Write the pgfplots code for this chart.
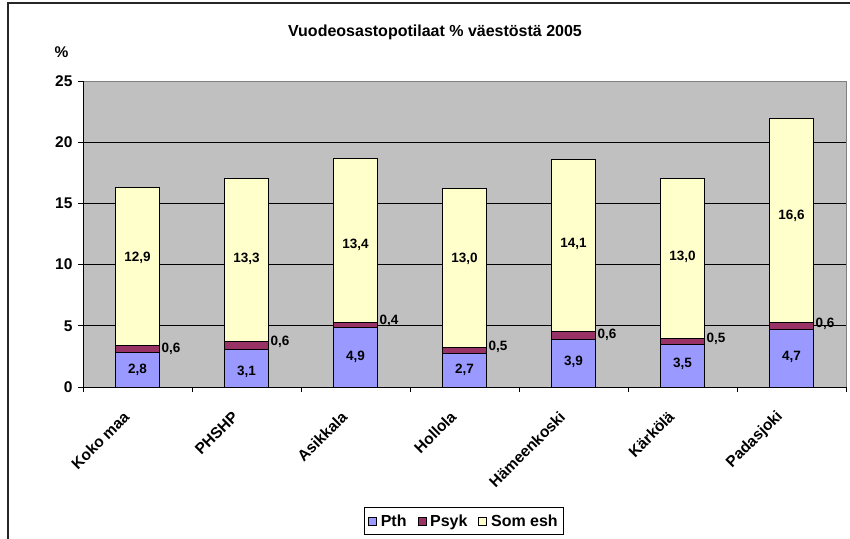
\documentclass[border=0pt]{standalone}
\usepackage{pgfplots}
\pgfplotsset{compat=1.18}
\usepackage{fontspec}
\setmainfont{Liberation Sans}
\definecolor{pth}{HTML}{9999FF}
\definecolor{psyk}{HTML}{993366}
\definecolor{som}{HTML}{FFFFCC}
\definecolor{plotbg}{HTML}{C0C0C0}
\newcommand{\fs}[1]{\fontsize{#1bp}{#1bp}\selectfont\bfseries}
\begin{document}
\begin{tikzpicture}[x=1bp,y=1bp]
\useasboundingbox (-83,-152) rectangle (767,387);
\draw[line width=1.2bp, black!85] (-75,-152) -- (-75,384) -- (767,384);
\node[font=\fs{16}] at (352,355) {Vuodeosastopotilaat \% väestöstä 2005};
\node[font=\fs{15.5}] at (-21.5,335) {\%};
\begin{axis}[
  at={(0,0)}, anchor=south west, scale only axis,
  width=763bp, height=306bp,
  xmin=-0.5, xmax=6.5, ymin=0, ymax=25,
  ybar stacked, bar width=0.4,
  axis background/.style={fill=plotbg, draw=gray},
  axis x line*=bottom, axis y line*=left,
  axis line style={black, line width=0.8bp, -},
  tick align=outside, major tick length=5bp,
  tick style={black, line width=0.8bp},
  ytick={0,5,...,25},
  yticklabel style={font=\fs{15.5}, xshift=-2bp},
  /pgf/number format/assume math mode=true,
  extra y ticks={5,10,15,20}, extra y tick labels={},
  extra y tick style={grid=major, major tick length=0pt},
  grid style={black, line width=0.8bp},
  xtick={-0.5,0.5,1.5,2.5,3.5,4.5,5.5,6.5}, xticklabels={},
  extra x ticks={0,1,2,3,4,5,6},
  extra x tick labels={Koko maa,PHSHP,Asikkala,Hollola,Hämeenkoski,Kärkölä,Padasjoki},
  extra x tick style={major tick length=0pt,
    xticklabel style={xshift=-11bp, yshift=-27bp, rotate=45, anchor=east, inner sep=0pt, font=\fs{15.5}}},
  legend columns=3,
  legend style={at={(0.4993,-0.438)}, anchor=center, draw=black, line width=0.8bp,
    font=\fs{16}, inner xsep=4bp, inner ysep=5bp,
    /tikz/every odd column/.append style={column sep=2bp},
    /tikz/every even column/.append style={column sep=9bp}},
  legend image code/.code={\draw[#1, line width=0.6bp] (0bp,-4bp) rectangle (8bp,4bp);},
]
\addplot[fill=pth, draw=black, line width=0.9bp] coordinates {(0,2.8) (1,3.1) (2,4.9) (3,2.7) (4,3.9) (5,3.5) (6,4.7)};
\addplot[fill=psyk, draw=black, line width=0.9bp] coordinates {(0,0.6) (1,0.6) (2,0.4) (3,0.5) (4,0.6) (5,0.5) (6,0.6)};
\addplot[fill=som, draw=black, line width=0.9bp] coordinates {(0,12.9) (1,13.3) (2,13.4) (3,13.0) (4,14.1) (5,13.0) (6,16.6)};
\legend{Pth,Psyk,Som esh}
\end{axis}
\begin{axis}[
  at={(0,0)}, anchor=south west, scale only axis,
  width=763bp, height=306bp,
  xmin=-0.5, xmax=6.5, ymin=0, ymax=25, hide axis,
]
\addplot[draw=none, mark=none, nodes near coords, point meta=explicit symbolic,
  nodes near coords align={center}, every node near coord/.append style={font=\fs{13.5}, anchor=center}]
  table[meta=label] {
x y label
0 1.39 {2,8}
1 1.25 {3,1}
2 2.45 {4,9}
3 1.39 {2,7}
4 2.05 {3,9}
5 1.88 {3,5}
6 2.45 {4,7}
0 10.54 {12,9}
1 10.46 {13,3}
2 11.60 {13,4}
3 10.46 {13,0}
4 11.68 {14,1}
5 10.62 {13,0}
6 13.97 {16,6}
};
\addplot[draw=none, mark=none, nodes near coords, point meta=explicit symbolic,
  every node near coord/.append style={font=\fs{13.5}, anchor=west, inner sep=0pt, xshift=2bp}]
  table[meta=label] {
x y label
0.2 3.10 {0,6}
1.2 3.68 {0,6}
2.2 5.40 {0,4}
3.2 3.27 {0,5}
4.2 4.25 {0,6}
5.2 3.90 {0,5}
6.2 5.20 {0,6}
};
\end{axis}
\end{tikzpicture}
\end{document}
